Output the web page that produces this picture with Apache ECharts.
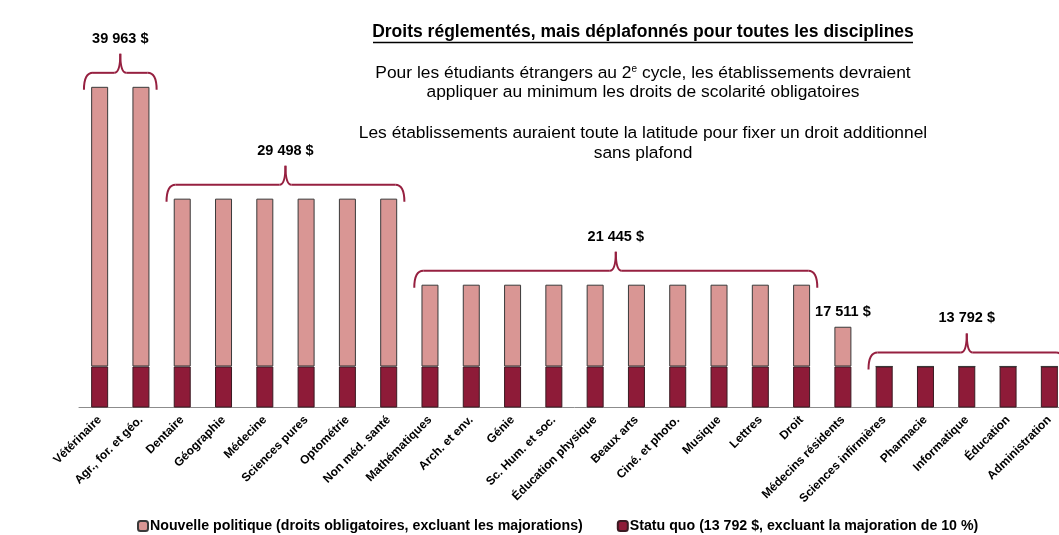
<!DOCTYPE html>
<html><head><meta charset="utf-8">
<script src="https://cdn.jsdelivr.net/npm/echarts@6/dist/echarts.min.js"></script>
<style>html,body{margin:0;padding:0;background:#fff;overflow:hidden;width:1059px;height:535px}#c{width:1100px;height:535px}</style>
</head><body><div id="c"></div>
<script>
const categories = ['Vétérinaire','Agr., for. et géo.','Dentaire','Géographie','Médecine','Sciences pures','Optométrie','Non méd. santé','Mathématiques','Arch. et env.','Génie','Sc. Hum. et soc.','Éducation physique','Beaux arts','Ciné. et photo.','Musique','Lettres','Droit','Médecins résidents','Sciences infirmières','Pharmacie','Informatique','Éducation','Administration'];
const nouvellePolitique = [39963,39963,29498,29498,29498,29498,29498,29498,21445,21445,21445,21445,21445,21445,21445,21445,21445,21445,17511,13792,13792,13792,13792,13792];
const statuQuo = [13792,13792,13792,13792,13792,13792,13792,13792,13792,13792,13792,13792,13792,13792,13792,13792,13792,13792,13792,13792,13792,13792,13792,13792];
const groupStart = [0,2,8,18,19];
const groupEnd = [1,7,17,18,23];
const groupValue = [39963,29498,21445,17511,13792];
const groupBracket = [true,true,true,false,true];

const NAME_NEW = 'Nouvelle politique (droits obligatoires, excluant les majorations)';
const NAME_SQ = 'Statu quo (13 792 $, excluant la majoration de 10 %)';
const FONT = '"Liberation Sans", Arial, sans-serif';
const BR = '#962040';

function fmt(v){ return String(v).replace(/\B(?=(\d{3})+(?!\d))/g,' ') + ' $'; }

const chart = echarts.init(document.getElementById('c'));
const topPart = nouvellePolitique.map((v,i)=> v - statuQuo[i]);
const groups = groupStart.map((s,i)=>[s, groupEnd[i], groupValue[i], groupBracket[i]?1:0]);

chart.setOption({
  animation:false,
  textStyle:{fontFamily:FONT},
  grid:{left:79, width:991, top:33, bottom:128},
  xAxis:{type:'category', data:categories,
    axisLine:{lineStyle:{color:'#8c8c8c', width:1}},
    axisTick:{length:4, lineStyle:{color:'#8c8c8c'}},
    axisLabel:{rotate:45, interval:0, fontWeight:'bold', fontSize:12, color:'#000', fontFamily:FONT, margin:11}},
  yAxis:{type:'value', min:10000, max:45000, show:false, splitLine:{show:false}},
  legend:{data:[NAME_NEW, NAME_SQ], top:514, left:132, itemWidth:10, itemHeight:10, itemGap:34,
    textStyle:{fontWeight:'bold', fontSize:14.2, color:'#000', fontFamily:FONT, padding:[0,0,0,-3]}},
  series:[
    {name:NAME_SQ, type:'bar', stack:'t', data:statuQuo, barWidth:17,
      itemStyle:{color:'#8E1B38', borderColor:'#3a1a22', borderWidth:1}},
    {name:NAME_NEW, type:'bar', stack:'t', data:topPart, barWidth:17,
      itemStyle:{color:'#D99694', borderColor:'#3a3a3a', borderWidth:1}},
    {type:'custom', coordinateSystem:'cartesian2d', data:groups, clip:false, z:5,
      encode:{x:[0,1], y:2},
      renderItem:function(params, api){
        const s = api.value(0), e = api.value(1), v = api.value(2), b = api.value(3);
        const p1 = api.coord([s, v]), p2 = api.coord([e, v]);
        const band = api.size([1,0])[0];
        const xm = (p1[0]+p2[0])/2;
        const top = p1[1];
        const children = [];
        if (b) {
          const l = p1[0] - band*0.38, r = p2[0] + band*0.38;
          const y = top - 14;
          const st = {stroke:BR, lineWidth:2, fill:null};
          children.push({type:'bezierCurve', shape:{x1:l,y1:y+17,cpx1:l,cpy1:y,x2:l+9,y2:y}, style:st});
          children.push({type:'line', shape:{x1:l+9,y1:y,x2:xm-6,y2:y}, style:st});
          children.push({type:'bezierCurve', shape:{x1:xm-6,y1:y,cpx1:xm,cpy1:y,x2:xm,y2:y-19}, style:st});
          children.push({type:'bezierCurve', shape:{x1:xm+6,y1:y,cpx1:xm,cpy1:y,x2:xm,y2:y-19}, style:st});
          children.push({type:'line', shape:{x1:xm+6,y1:y,x2:r-9,y2:y}, style:st});
          children.push({type:'bezierCurve', shape:{x1:r,y1:y+17,cpx1:r,cpy1:y,x2:r-9,y2:y}, style:st});
          children.push({type:'text', style:{text:fmt(v), x:xm, y:y-34, align:'center', verticalAlign:'middle',
            font:'bold 14.5px '+FONT, fill:'#000'}});
        } else {
          children.push({type:'text', style:{text:fmt(v), x:xm, y:top-15, align:'center', verticalAlign:'middle',
            font:'bold 14.5px '+FONT, fill:'#000'}});
        }
        return {type:'group', children:children};
      }}
  ],
  graphic:[
    {type:'text', x:643, y:32, style:{text:'Droits réglementés, mais déplafonnés pour toutes les disciplines',
      align:'center', verticalAlign:'middle', font:'bold 17.5px '+FONT, fill:'#000'}},
    {type:'line', shape:{x1:373, y1:42.5, x2:913, y2:42.5}, style:{stroke:'#000', lineWidth:1.5}},
    {type:'text', x:643, y:73, style:{text:'Pour les étudiants étrangers au 2{sup|e} cycle, les établissements devraient',
      align:'center', verticalAlign:'middle', font:'17.4px '+FONT, fill:'#000',
      rich:{sup:{fontSize:10, fontFamily:FONT, verticalAlign:'top', padding:[0,0,7,0]}}}},
    {type:'text', x:643, y:92, style:{text:'appliquer au minimum les droits de scolarité obligatoires',
      align:'center', verticalAlign:'middle', font:'17.4px '+FONT, fill:'#000'}},
    {type:'text', x:643, y:133, style:{text:'Les établissements auraient toute la latitude pour fixer un droit additionnel',
      align:'center', verticalAlign:'middle', font:'17.4px '+FONT, fill:'#000'}},
    {type:'text', x:643, y:153, style:{text:'sans plafond',
      align:'center', verticalAlign:'middle', font:'17.4px '+FONT, fill:'#000'}}
  ]
});
</script></body></html>
